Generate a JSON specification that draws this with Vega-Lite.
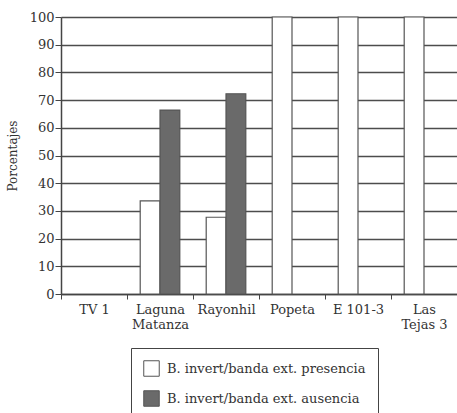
{
  "$schema": "https://vega.github.io/schema/vega-lite/v6.json",
  "width": 396,
  "height": 277,
  "autosize": {"type": "none"},
  "padding": {"left": 61, "top": 17, "right": 0, "bottom": 119},
  "background": "white",
  "config": {
    "font": "DejaVu Serif",
    "view": {"stroke": null},
    "axis": {"labelFont": "DejaVu Serif", "titleFont": "DejaVu Serif", "labelColor": "#333", "titleColor": "#333", "domainColor": "#444", "tickColor": "#444"},
    "legend": {"labelFont": "DejaVu Serif"}
  },
  "data": {
    "values": [
      {"sitio": "TV 1", "serie": "B. invert/banda ext. presencia", "valor": 0},
      {"sitio": "TV 1", "serie": "B. invert/banda ext. ausencia", "valor": 0},
      {"sitio": "Laguna Matanza", "serie": "B. invert/banda ext. presencia", "valor": 33.6},
      {"sitio": "Laguna Matanza", "serie": "B. invert/banda ext. ausencia", "valor": 66.4},
      {"sitio": "Rayonhil", "serie": "B. invert/banda ext. presencia", "valor": 27.7},
      {"sitio": "Rayonhil", "serie": "B. invert/banda ext. ausencia", "valor": 72.3},
      {"sitio": "Popeta", "serie": "B. invert/banda ext. presencia", "valor": 100},
      {"sitio": "Popeta", "serie": "B. invert/banda ext. ausencia", "valor": 0},
      {"sitio": "E 101-3", "serie": "B. invert/banda ext. presencia", "valor": 100},
      {"sitio": "E 101-3", "serie": "B. invert/banda ext. ausencia", "valor": 0},
      {"sitio": "Las Tejas 3", "serie": "B. invert/banda ext. presencia", "valor": 100},
      {"sitio": "Las Tejas 3", "serie": "B. invert/banda ext. ausencia", "valor": 0}
    ]
  },
  "mark": {"type": "bar", "stroke": "#555", "strokeWidth": 1.2},
  "encoding": {
    "x": {
      "field": "sitio",
      "type": "nominal",
      "sort": null,
      "scale": {"paddingInner": 0, "paddingOuter": 0},
      "axis": {
        "title": null,
        "labelAngle": 0,
        "labelFontSize": 13,
        "labelPadding": 4,
        "labelLineHeight": 15,
        "tickBand": "extent",
        "tickSize": 5,
        "domainWidth": 1.5,
        "labelExpr": "datum.label == 'Laguna Matanza' ? ['Laguna', 'Matanza'] : datum.label == 'Las Tejas 3' ? ['Las', 'Tejas 3'] : datum.label"
      }
    },
    "xOffset": {
      "field": "serie",
      "type": "nominal",
      "sort": ["B. invert/banda ext. presencia", "B. invert/banda ext. ausencia"],
      "scale": {"paddingInner": 0, "paddingOuter": 0.667}
    },
    "y": {
      "field": "valor",
      "type": "quantitative",
      "scale": {"domain": [0, 100], "nice": false},
      "axis": {
        "title": "Porcentajes",
        "titleFontSize": 12,
        "titleFontWeight": "normal",
        "titlePadding": 10,
        "labelFontSize": 13,
        "labelPadding": 1,
        "tickSize": 6,
        "values": [0, 10, 20, 30, 40, 50, 60, 70, 80, 90, 100],
        "grid": true,
        "gridColor": "#4d4d4d",
        "gridWidth": 1.5,
        "domainWidth": 1.5
      }
    },
    "strokeOpacity": {"condition": {"test": "datum.valor == 0", "value": 0}, "value": 1},
    "fill": {
      "field": "serie",
      "type": "nominal",
      "sort": ["B. invert/banda ext. presencia", "B. invert/banda ext. ausencia"],
      "scale": {"range": ["#ffffff", "#6a6a6a"]},
      "legend": {
        "title": null,
        "orient": "none",
        "legendX": 70,
        "legendY": 331,
        "direction": "vertical",
        "symbolType": "square",
        "symbolSize": 240,
        "symbolStrokeColor": "#555",
        "symbolStrokeWidth": 1,
        "labelFontSize": 13,
        "labelLimit": 400,
        "labelColor": "#333",
        "rowPadding": 9,
        "padding": 12,
        "strokeColor": "#444",
        "labelOffset": 7
      }
    }
  }
}
